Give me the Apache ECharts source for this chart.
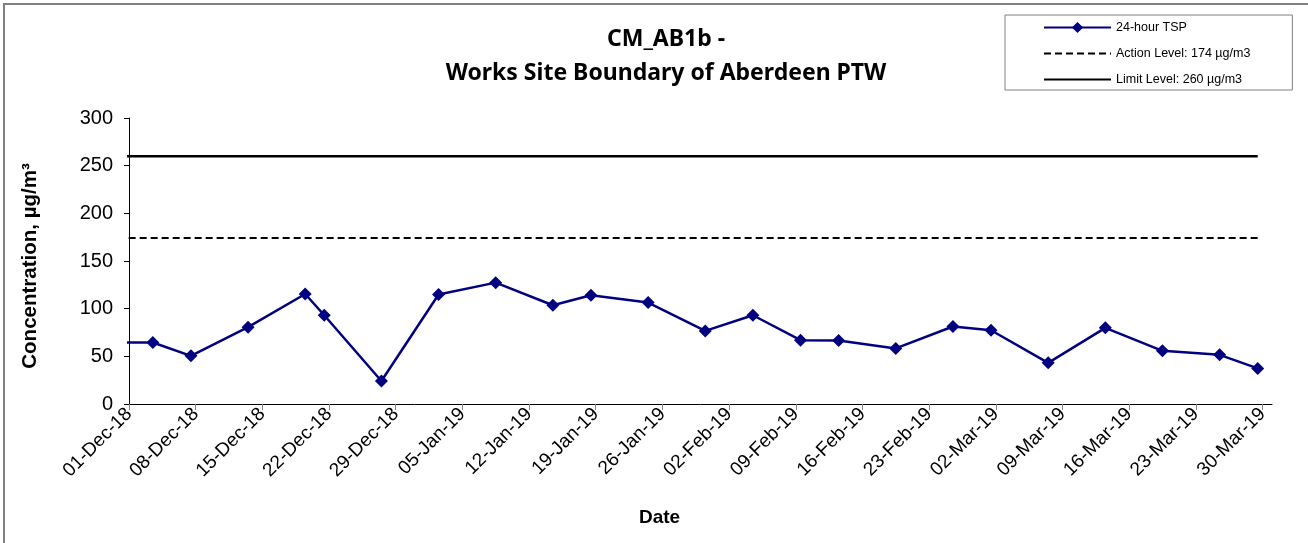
<!DOCTYPE html>
<html>
<head>
<meta charset="utf-8">
<script src="https://cdn.jsdelivr.net/npm/echarts@6/dist/echarts.min.js"></script>
<style>
html,body{margin:0;padding:0;background:#fff;}
#chart{width:1308px;height:543px;}
</style>
</head>
<body>
<div id="chart"></div>
<script>
// ---- data ----
var axisStart = '2018-12-01';
var axisEnd = '2019-03-31';
var sampleDates = ['2018-11-27','2018-12-03','2018-12-07','2018-12-13','2018-12-19','2018-12-21','2018-12-27',
  '2019-01-02','2019-01-08','2019-01-14','2019-01-18','2019-01-24','2019-01-30','2019-02-04','2019-02-09',
  '2019-02-13','2019-02-19','2019-02-25','2019-03-01','2019-03-07','2019-03-13','2019-03-19','2019-03-25','2019-03-29'];
var tspValues = [64.5, 64.5, 50.5, 80.6, 115.4, 93.1, 24.1, 114.8, 127.3, 103.6, 114.1, 106.4, 76.7, 93.1, 67.0,
  66.6, 58.3, 81.3, 77.4, 43.2, 79.9, 55.8, 51.6, 37.3];
var actionLevel = 174;
var limitLevel = 260;
var tickDates = ['2018-12-01','2018-12-08','2018-12-15','2018-12-22','2018-12-29','2019-01-05','2019-01-12',
  '2019-01-19','2019-01-26','2019-02-02','2019-02-09','2019-02-16','2019-02-23','2019-03-02','2019-03-09',
  '2019-03-16','2019-03-23','2019-03-30'];
var seriesNames = ['24-hour TSP', 'Action Level: 174 \u00b5g/m3', 'Limit Level: 260 \u00b5g/m3'];

// ---- helpers ----
var MONTHS = ['Jan','Feb','Mar','Apr','May','Jun','Jul','Aug','Sep','Oct','Nov','Dec'];
function dayNum(s) { var p = s.split('-'); return Date.UTC(+p[0], +p[1]-1, +p[2]) / 86400000; }
var base = dayNum(axisStart);
function dayIndex(s) { return dayNum(s) - base; }
function fmt(d) {
  var t = new Date((base + d) * 86400000);
  var dd = t.getUTCDate();
  return (dd < 10 ? '0' : '') + dd + '-' + MONTHS[t.getUTCMonth()] + '-' + String(t.getUTCFullYear()).slice(2);
}
// samples are centred within their day (date axis "between tick marks")
var tspData = sampleDates.map(function (d, i) { return [dayIndex(d) + 0.5, tspValues[i]]; });
var firstX = dayIndex(sampleDates[0]) + 0.5, lastX = dayIndex(sampleDates[sampleDates.length-1]) + 0.5;
var ticks = tickDates.map(dayIndex);

var FONT = "'Liberation Sans', Arial, sans-serif";
var chart = echarts.init(document.getElementById('chart'));
chart.setOption({
  animation: false,
  backgroundColor: '#fff',
  graphic: [{
    type: 'rect', shape: {x: 4, y: 4, width: 1400, height: 600}, silent: true,
    style: {fill: 'none', stroke: '#808080', lineWidth: 2}
  }],
  title: {
    text: 'CM_AB1b -\nWorks Site Boundary of Aberdeen PTW',
    left: 661, top: 17, textAlign: 'center',
    textStyle: {fontFamily: "'Noto Sans'", fontWeight: 'bold', fontSize: 23, lineHeight: 34, color: '#000'}
  },
  legend: {
    orient: 'vertical', left: 1005, top: 15,
    padding: [6, 42, 4, 38],
    borderColor: '#808080', borderWidth: 1,
    itemWidth: 67, itemHeight: 14, itemGap: 13,
    textStyle: {fontFamily: FONT, fontSize: 12.5, color: '#000'},
    data: [
      {name: seriesNames[0]},
      {name: seriesNames[1], itemStyle: {opacity: 0}},
      {name: seriesNames[2], itemStyle: {opacity: 0}}
    ]
  },
  grid: {left: 129, right: 36, top: 118, bottom: 139, containLabel: false},
  xAxis: {
    type: 'value', min: 0, max: dayIndex(axisEnd),
    name: 'Date', nameLocation: 'middle', nameGap: 104,
    nameTextStyle: {fontFamily: FONT, fontWeight: 'bold', fontSize: 19, color: '#000', padding: [0, 82, 0, 0]},
    axisLine: {lineStyle: {color: '#000', width: 1}},
    axisTick: {show: true, length: 6, lineStyle: {color: '#808080'}, customValues: ticks},
    axisLabel: {
      rotate: 45, margin: 7, fontFamily: FONT, fontSize: 19, color: '#000',
      customValues: ticks, formatter: function (v) { return fmt(v); }
    },
    splitLine: {show: false}
  },
  yAxis: {
    type: 'value', min: 0, max: 300, interval: 50,
    name: 'Concentration, \u00b5g/m\u00b3', nameLocation: 'middle', nameGap: 88,
    nameTextStyle: {fontFamily: FONT, fontWeight: 'bold', fontSize: 20.5, color: '#000', padding: [0, 10, 0, 0]},
    axisLine: {show: true, lineStyle: {color: '#000', width: 1}},
    axisTick: {show: true, length: 5, lineStyle: {color: '#000'}},
    axisLabel: {margin: 16, fontFamily: FONT, fontSize: 20, color: '#000'},
    splitLine: {show: false}
  },
  series: [
    {
      name: seriesNames[0], type: 'line', data: tspData, clip: true,
      symbol: 'diamond', symbolSize: 13,
      itemStyle: {color: '#000080'},
      lineStyle: {color: '#000080', width: 2.5}
    },
    {
      name: seriesNames[1], type: 'line', data: [[firstX, actionLevel], [lastX, actionLevel]], clip: true,
      symbol: 'none', itemStyle: {color: '#000'},
      lineStyle: {color: '#000', width: 2, type: [7, 4]}
    },
    {
      name: seriesNames[2], type: 'line', data: [[firstX, limitLevel], [lastX, limitLevel]], clip: true,
      symbol: 'none', itemStyle: {color: '#000'},
      lineStyle: {color: '#000', width: 2.5}
    }
  ]
});
</script>
</body>
</html>
